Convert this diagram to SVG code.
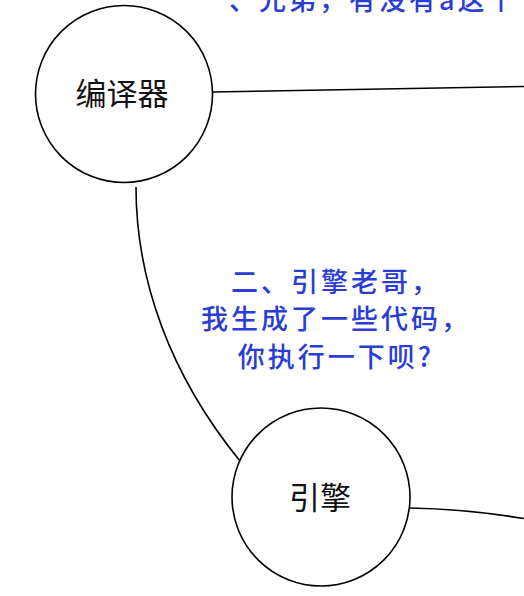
<svg xmlns="http://www.w3.org/2000/svg" width="524" height="596" viewBox="0 0 524 596">
<style>
.node{fill:#ffffff;stroke:#000000;stroke-width:1.6}
.edge{fill:none;stroke:#000000;stroke-width:1.6}
.nlabel{font-family:"Noto Sans CJK SC","Noto Sans",sans-serif;font-size:31px;font-weight:400;fill:#111111;text-anchor:middle}
.elabel{font-family:"Noto Sans CJK SC","Noto Sans",sans-serif;font-size:27px;font-weight:500;fill:#2a3dd4;letter-spacing:3px}
</style>
<rect width="524" height="596" fill="#ffffff"/>
<g id="connectors">
<path class="edge" d="M212,92 L524,86.5"/>
<path class="edge" d="M136,187 C136,280 170,375 240,461"/>
<path class="edge" d="M410,508 Q465,509 524,518.5"/>
</g>
<g id="edge-labels">
<text class="elabel" x="229" y="10">、兄弟，有没有a这个</text>
<text class="elabel" text-anchor="middle" x="336" y="292">二、引擎老哥，</text>
<text class="elabel" text-anchor="middle" x="336" y="329">我生成了一些代码，</text>
<text class="elabel" text-anchor="middle" x="336" y="367">你执行一下呗?</text>
</g>
<g id="node-compiler">
<circle class="node" cx="124" cy="94" r="88.5"/>
<text class="nlabel" x="122" y="105">编译器</text>
</g>
<g id="node-engine">
<circle class="node" cx="321" cy="497" r="89"/>
<text class="nlabel" x="320" y="509">引擎</text>
</g>
</svg>
